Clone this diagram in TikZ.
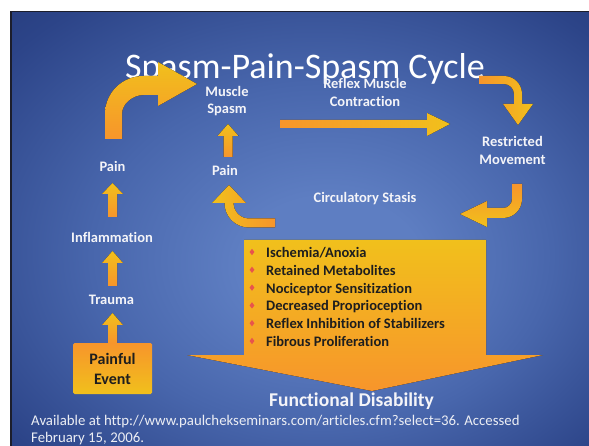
\documentclass[tikz,border=0pt]{standalone}
\usepackage{fontspec}
\setmainfont{Carlito}[Ligatures=NoCommon]
\usetikzlibrary{shapes.geometric}

\definecolor{ylw}{RGB}{241,192,28}
\definecolor{org}{RGB}{247,149,43}
\definecolor{gemred}{RGB}{232,84,76}
\definecolor{inkdark}{RGB}{30,30,30}
\definecolor{labelwhite}{RGB}{244,244,248}
\definecolor{footgray}{RGB}{236,238,244}
\definecolor{framedark}{RGB}{28,30,44}
\definecolor{glowin}{RGB}{94,126,194}
\definecolor{glowmid}{RGB}{72,102,172}
\definecolor{glowedge}{RGB}{44,68,136}
\definecolor{glowout}{RGB}{30,50,110}

% soft light spot in the middle of the slide, navy towards the edges
\pgfdeclareradialshading{slideglow}{\pgfpoint{3bp}{-5bp}}{%
  color(0bp)=(glowin); color(8bp)=(glowin); color(20bp)=(glowmid);
  color(34bp)=(glowedge); color(46bp)=(glowout); color(50bp)=(glowout)}

% upward block arrow: centre x, tip y, head base y, tail y
\newcommand{\blockup}[4]{%
  \fill[upgrad] (#1-4.5,#4) -- (#1-4.5,#3) -- (#1-10.5,#3) -- (#1,#2)
    -- (#1+10.5,#3) -- (#1+4.5,#3) -- (#1+4.5,#4) -- cycle;}

\begin{document}
\begin{tikzpicture}[x=1pt,y=-1pt,
  lbl/.style={font=\fontsize{14.5}{17.5}\selectfont\bfseries, text=labelwhite,
    align=center, inner sep=0pt},
  itemtext/.style={font=\fontsize{14.5}{17.5}\selectfont\bfseries, text=inkdark,
    anchor=base west, inner sep=0pt},
  gem/.style={diamond, fill=gemred, minimum width=5pt, minimum height=6.5pt,
    inner sep=0pt},
  upgrad/.style={top color=ylw, bottom color=org},
  footnote/.style={font=\fontsize{14.8}{17}\selectfont, text=footgray,
    anchor=base west, inner sep=0pt}]

\useasboundingbox (0,0) rectangle (589,446);
\fill[white] (0,0) rectangle (589,446);
\fill[framedark] (10,11) rectangle (589,446);
\shade[shading=slideglow] (12,13) rectangle (589,446);

% title
\node[font=\fontsize{36}{40}\selectfont, text=white, anchor=base, inner sep=0pt]
  (title) at (305,79) {Spasm-Pain-Spasm Cycle};

% big funnel arrow with the list of consequences
\fill[top color=ylw, bottom color=org]
  (244,240) -- (486,240) -- (486,355) -- (543,355) -- (372,391)
  -- (187,355) -- (244,355) -- cycle;

% left column of small arrows
\blockup{112.5}{313}{325}{343}
\blockup{112.5}{251}{263}{286}
\blockup{112.5}{183}{194}{217}
% small arrow up to Muscle Spasm
\blockup{228}{124}{136}{157}

% bent arrow from the left Pain up to Muscle Spasm
\fill[top color=ylw, bottom color=org]
  (105,139) -- (105,114) .. controls (105,92.7) and (122.2,76) .. (143.5,76)
  -- (158,76) -- (158,62) -- (197,84) -- (158,106) -- (158,95)
  -- (143.5,95) .. controls (132.9,95) and (122,103.4) .. (122,114)
  -- (122,139) -- cycle;

% straight arrow: Reflex Muscle Contraction
\fill[left color=org, right color=ylw]
  (280,120) -- (427,120) -- (427,113) -- (450,124) -- (427,136)
  -- (427,128) -- (280,128) -- cycle;

% bent arrow down to Restricted Movement
\fill[left color=org, right color=ylw]
  (479,76) -- (504,76) .. controls (513.9,76) and (522,84.1) .. (522,94)
  -- (522,104) -- (533,104) -- (518,125) -- (503,104) -- (514,104)
  -- (514,94) .. controls (514,88.5) and (509.5,84) .. (504,84)
  -- (479,84) -- cycle;

% bent arrow towards Circulatory Stasis
\fill[top color=org, bottom color=ylw]
  (522,184) -- (522,199) .. controls (522,209.5) and (513.5,218) .. (503,218)
  -- (487,218) -- (487,227) -- (460,214) -- (487,201) -- (487,208)
  -- (503,208) .. controls (508,208) and (512,204) .. (512,199)
  -- (512,184) -- cycle;

% bent arrow up to the middle Pain
\fill[left color=ylw, right color=org]
  (275,227.5) -- (249,227.5) .. controls (235.5,227.5) and (224.5,216.5) .. (224.5,203)
  -- (212,203) -- (229,185) -- (246,203) -- (233.5,203)
  .. controls (233.5,211.6) and (240.4,218.5) .. (249,218.5)
  -- (275,218.5) -- cycle;

% labels
\node[lbl] (spasm) at (227,101) {Muscle\\Spasm};
\node[lbl] (reflex) at (365,92.5) {Reflex Muscle\\Contraction};
\node[lbl] (restrict) at (512.5,150.5) {Restricted\\Movement};
\node[lbl] (stasis) at (365,199) {Circulatory Stasis};
\node[lbl] (painmid) at (225,170) {Pain};
\node[lbl] (painleft) at (112.5,166) {Pain};
\node[lbl] (inflam) at (112,237) {Inflammation};
\node[lbl] (trauma) at (111.5,300) {Trauma};

% starting event
\node[rounded corners=1.5pt, top color=org, bottom color=ylw,
  minimum width=79pt, minimum height=51pt, inner sep=0pt, align=center,
  font=\fontsize{16}{20}\selectfont\bfseries, text=inkdark]
  (event) at (112.5,368.5) {Painful\\Event};

% list in the funnel
\foreach \txt [count=\i from 0] in {Ischemia/Anoxia, Retained Metabolites,
    Nociceptor Sensitization, Decreased Proprioception,
    Reflex Inhibition of Stabilizers, Fibrous Proliferation} {
  \node[gem] (gem\i) at (252,{252+17.8*\i}) {};
  \node[itemtext] (item\i) at (266,{257.5+17.8*\i}) {\txt};
}

\node[font=\fontsize{19.5}{22}\selectfont\bfseries, text=labelwhite,
  anchor=base, inner sep=0pt] (outcome) at (351.5,406.5) {Functional Disability};

\node[footnote] (src1) at (31,425.5)
  {Available at http://www.paulchekseminars.com/articles.cfm?select=36. Accessed};
\node[footnote] (src2) at (31,442.5) {February 15, 2006.};

\end{tikzpicture}
\end{document}
